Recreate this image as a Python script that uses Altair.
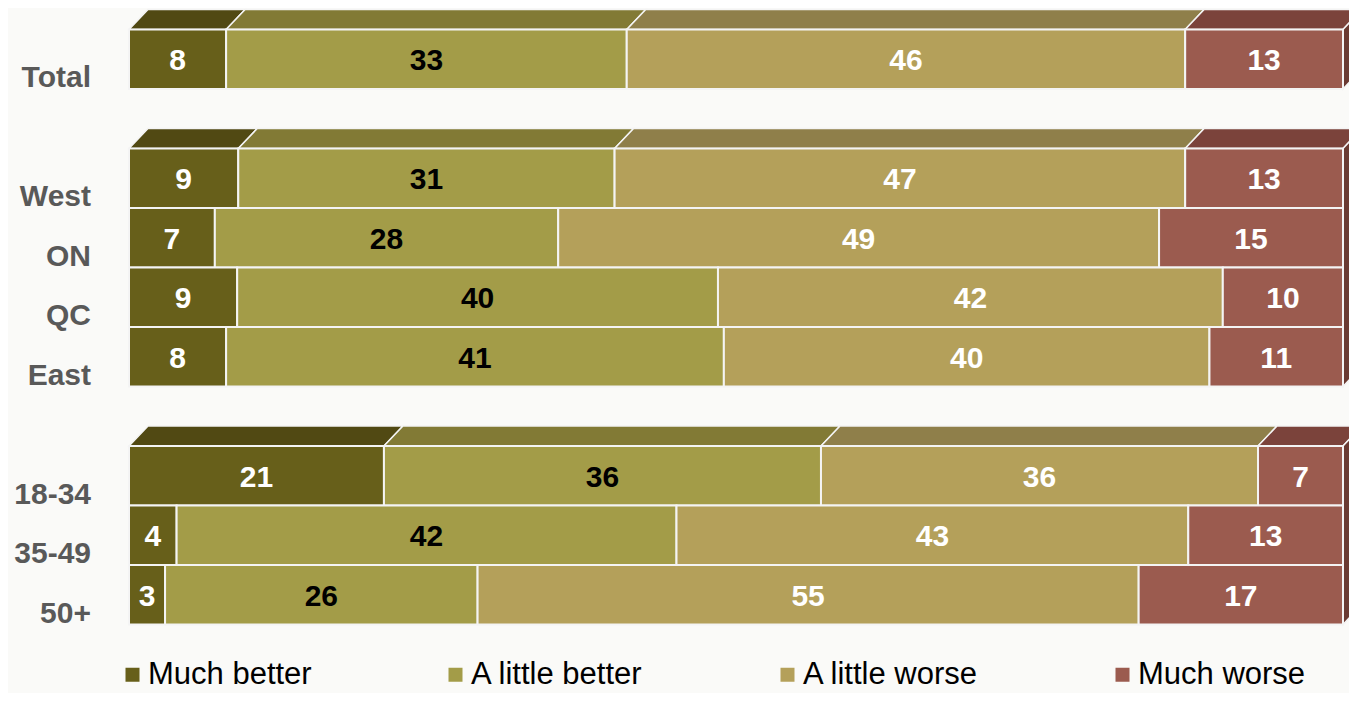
import altair as alt
import pandas as pd

# ---------------- data ----------------
categories = ["Much better", "A little better", "A little worse", "Much worse"]
row_labels = ["Total", "West", "ON", "QC", "East", "18-34", "35-49", "50+"]
group_sizes = [1, 4, 3]
much_better = [8, 9, 7, 9, 8, 21, 4, 3]
little_better = [33, 31, 28, 40, 41, 36, 42, 26]
little_worse = [46, 47, 49, 42, 40, 36, 43, 55]
much_worse = [13, 13, 15, 10, 11, 7, 13, 17]

# ---------------- styles ----------------
front_colors = ["#675f1a", "#a39c48", "#b4a05a", "#9b5b4f"]
top_colors = ["#514913", "#827a35", "#8f7f4a", "#7b433b"]
side_color = "#6a3a32"
value_colors = ["white", "black", "white", "white"]
FONT = "Liberation Sans"

W, H = 1341, 685
PX_PER_UNIT = 12.14          # x pixels per percent
X_LEFT = 121                 # pixel position of 0 %
ROW_PITCH = 59.5             # pixels per row slot
Y_TOP = 21.5                 # pixel position of first slot top
DX = 19 / PX_PER_UNIT        # 3D depth in x units
DY = 20 / ROW_PITCH          # 3D depth in slot units

xa = -X_LEFT / PX_PER_UNIT
xb = xa + W / PX_PER_UNIT
ya = -Y_TOP / ROW_PITCH
yb = ya + H / ROW_PITCH

# slot index of each row: a blank slot between groups
slots = []
s = 0
group_first, group_last = [], []
for g in group_sizes:
    group_first.append(s)
    for k in range(g):
        slots.append(s)
        s += 1
    group_last.append(s - 1)
    s += 1

series = [much_better, little_better, little_worse, much_worse]

bar_rows = []
for i, lab in enumerate(row_labels):
    vals = [ser[i] for ser in series]
    tot = sum(vals)
    cum = 0
    for j, cat in enumerate(categories):
        x0 = cum / tot * 100
        cum += vals[j]
        x1 = cum / tot * 100
        bar_rows.append(dict(label=lab, cat=cat, x0=x0, x1=x1, mid=(x0 + x1) / 2,
                             y0=slots[i], y1=slots[i] + 1, ym=slots[i] + 0.5,
                             value=str(vals[j]), tcol=value_colors[j]))
bars_df = pd.DataFrame(bar_rows)

labels_df = pd.DataFrame(dict(label=row_labels, ym=[sl + 0.5 for sl in slots]))

# 3D faces (top parallelograms and right side)
face_rows = []
for gi, r0 in enumerate(group_first):
    first_idx = slots.index(r0)
    sub = bars_df[bars_df.label == row_labels[first_idx]]
    for j, (_, b) in enumerate(sub.iterrows()):
        key = f"top{gi}_{j}"
        pts = [(b.x0, r0, r0), (b.x0 + DX, r0 - DY, r0),
               (b.x1, r0 - DY, r0), (b.x1 + DX, r0 - DY, r0 - DY)]
        for k, (x, yt, yb_) in enumerate(pts):
            face_rows.append(dict(key=key, x=x, ytop=yt, ybot=yb_, fill=top_colors[j], o=k))
    r1 = group_last[gi] + 1
    key = f"side{gi}"
    for k, (x, yt, yb_) in enumerate([(100, r0, r1), (100 + DX, r0 - DY, r1 - DY)]):
        face_rows.append(dict(key=key, x=x, ytop=yt, ybot=yb_, fill=side_color, o=k))
faces_df = pd.DataFrame(face_rows)

xscale = alt.Scale(domain=[xa, xb], nice=False, zero=False)
yscale = alt.Scale(domain=[ya, yb], nice=False, zero=False, reverse=True)

faces = alt.Chart(faces_df).mark_area(orient="vertical", stroke="#f4f4f4", strokeWidth=1.5).encode(
    x=alt.X("x:Q", scale=xscale, axis=None),
    y=alt.Y("ytop:Q", scale=yscale, axis=None, stack=False),
    y2="ybot:Q",
    detail="key:N",
    fill=alt.Fill("fill:N", scale=None),
)

bars = alt.Chart(bars_df).mark_rect(stroke="#f4f4f4", strokeWidth=2).encode(
    x=alt.X("x0:Q", scale=xscale, axis=None),
    x2="x1:Q",
    y=alt.Y("y0:Q", scale=yscale, axis=None),
    y2="y1:Q",
    color=alt.Color(
        "cat:N",
        scale=alt.Scale(domain=categories, range=front_colors),
        legend=alt.Legend(
            orient="none", legendX=109, legendY=651, direction="horizontal", columns=4,
            title=None, symbolType="square", symbolSize=196, symbolStrokeWidth=0,
            symbolOpacity=1, labelFont=FONT, labelFontSize=31, labelColor="black",
            labelOffset=0, columnPadding=128, labelLimit=400, padding=0,
        ),
    ),
)

values = alt.Chart(bars_df).mark_text(
    font=FONT, fontSize=30, fontWeight="bold", baseline="alphabetic", dy=11
).encode(
    x=alt.X("mid:Q", scale=xscale, axis=None),
    y=alt.Y("ym:Q", scale=yscale, axis=None),
    text="value:N",
    fill=alt.Fill("tcol:N", scale=None),
)

row_text = alt.Chart(labels_df).mark_text(
    font=FONT, fontSize=30, fontWeight="bold", align="right", baseline="alphabetic",
    dy=28, color="#595959"
).encode(
    x=alt.value(83),
    y=alt.Y("ym:Q", scale=yscale, axis=None),
    text="label:N",
)

chart = alt.layer(faces, bars, values, row_text).properties(
    width=W, height=H, padding=0,
    autosize=alt.AutoSizeParams(type="none"),
    background="#fafaf8",
).configure_view(strokeWidth=0)

chart.save("out.html", embed_options={"renderer": "svg", "actions": False})
